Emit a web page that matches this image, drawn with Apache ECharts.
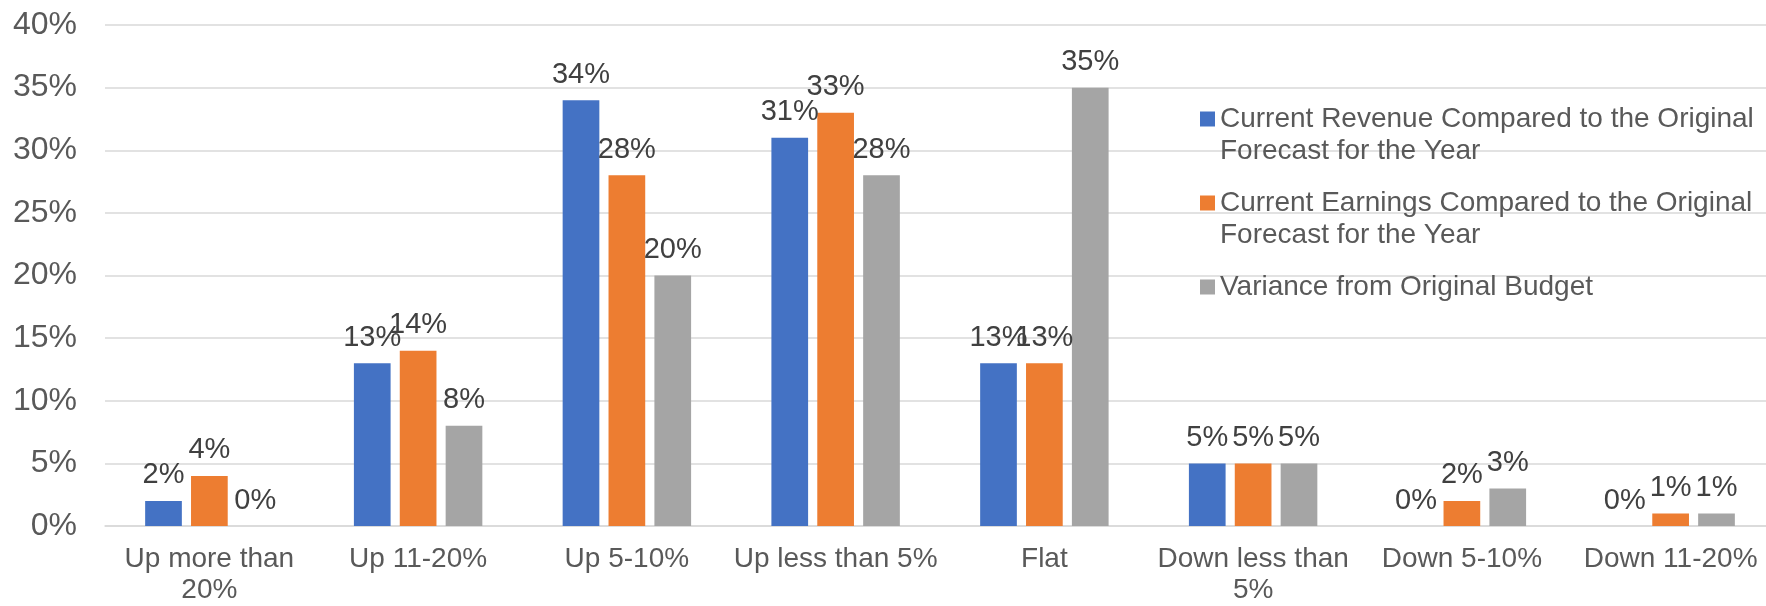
<!DOCTYPE html>
<html>
<head>
<meta charset="utf-8">
<script src="https://cdn.jsdelivr.net/npm/echarts@6/dist/echarts.min.js"></script>
<style>
  html, body { margin: 0; padding: 0; background: #fff; overflow: hidden; }
  /* plot area runs a little past the right edge, as in the original */
  #chart { width: 1775px; height: 606px; }
</style>
</head>
<body>
<div id="chart"></div>
<script>
// categories and series values (percent)
const categories = [
  'Up more than\n20%', 'Up 11-20%', 'Up 5-10%', 'Up less than 5%',
  'Flat', 'Down less than\n5%', 'Down 5-10%', 'Down 11-20%'
];
const revenue = [2, 13, 34, 31, 13, 5, 0, 0];
const earnings = [4, 14, 28, 33, 13, 5, 2, 1];
const variance = [0, 8, 20, 28, 35, 5, 3, 1];

const seriesNames = [
  'Current Revenue Compared to the Original Forecast for the Year',
  'Current Earnings Compared to the Original Forecast for the Year',
  'Variance from Original Budget'
];
const colors = ['#4472C4', '#ED7D31', '#A5A5A5'];

const font = 'Liberation Sans, Arial, sans-serif';

const chart = echarts.init(document.getElementById('chart'));

const makeSeries = (name, values) => ({
  name: name,
  type: 'bar',
  data: values,
  barWidth: 36.7,
  barGap: '25%',
  label: {
    show: true,
    position: 'top',
    distance: 11,
    formatter: '{c}%',
    color: '#404040',
    fontFamily: font,
    fontSize: 29
  }
});

const option = {
  animation: false,
  color: colors,
  grid: { left: 105, right: 0, top: 25, bottom: 79 },
  legend: {
    orient: 'vertical',
    left: 1195,
    top: 66,
    itemWidth: 15,
    itemHeight: 15,
    itemGap: -12,
    icon: 'rect',
    selectedMode: false,
    // blank lines keep the marker beside the first line of each entry, like Excel
    formatter: (name) => name === seriesNames[2] ? ' \n' + name + '\n ' : ' \n' + name,
    textStyle: {
      color: '#595959',
      fontFamily: font,
      fontSize: 28,
      lineHeight: 32,
      width: 545,
      overflow: 'break'
    },
    data: seriesNames
  },
  xAxis: {
    type: 'category',
    data: categories,
    axisLine: { lineStyle: { color: '#D9D9D9', width: 1.5 } },
    axisTick: { show: false },
    axisLabel: {
      interval: 0,
      margin: 18,
      color: '#595959',
      fontFamily: font,
      fontSize: 28,
      lineHeight: 31
    }
  },
  yAxis: {
    type: 'value',
    min: 0,
    max: 40,
    interval: 5,
    axisLine: { show: false },
    axisTick: { show: false },
    splitLine: { lineStyle: { color: '#D9D9D9', width: 1.5 } },
    axisLabel: {
      formatter: '{value}%',
      margin: 28,
      color: '#595959',
      fontFamily: font,
      fontSize: 32
    }
  },
  series: [
    makeSeries(seriesNames[0], revenue),
    makeSeries(seriesNames[1], earnings),
    makeSeries(seriesNames[2], variance)
  ]
};

chart.setOption(option);
</script>
</body>
</html>
